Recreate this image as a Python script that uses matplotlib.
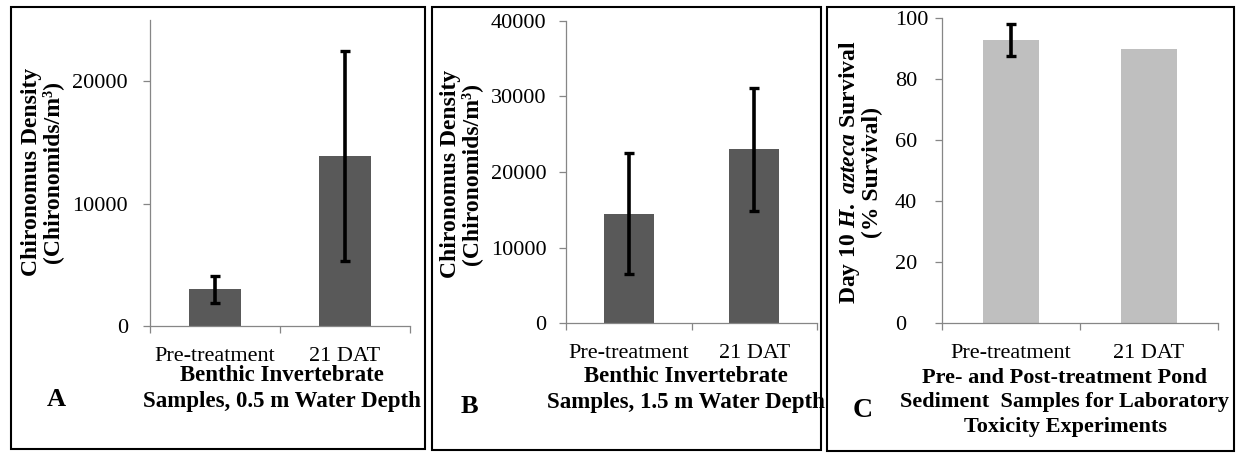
import numpy as np
import matplotlib
matplotlib.use("Agg")
import matplotlib.pyplot as plt
from matplotlib.patches import Rectangle

plt.rcParams['font.family'] = ['Liberation Serif', 'DejaVu Serif']
plt.rcParams['mathtext.fontset'] = 'custom'
plt.rcParams['mathtext.rm'] = 'Liberation Serif:bold'
plt.rcParams['mathtext.it'] = 'Liberation Serif:italic:bold'
plt.rcParams['mathtext.bf'] = 'Liberation Serif:bold'

# ---------------- data ----------------
categories = ["Pre-treatment", "21 DAT"]

a_values = [3000, 13900]
a_errors = [1100, 8600]
a_yticks = [0, 10000, 20000]

b_values = [14500, 23000]
b_errors = [8000, 8150]
b_yticks = [0, 10000, 20000, 30000, 40000]

c_values = [92.8, 90.0]
c_errors = [5.2, np.nan]
c_yticks = [0, 20, 40, 60, 80, 100]

a_ylabel = "Chironomus Density\n(Chironomids/m³)"
b_ylabel = "Chironomus Density\n(Chironomids/m³)"
c_ylabel = "Day 10 $\\mathit{H.\\ azteca}$ Survival\n(% Survival)"
a_xlabel = "Benthic Invertebrate\nSamples, 0.5 m Water Depth"
b_xlabel = "Benthic Invertebrate\nSamples, 1.5 m Water Depth"
c_xlabel = "Pre- and Post-treatment Pond\nSediment  Samples for Laboratory\nToxicity Experiments"

# ---------------- layout helpers ----------------
W, H = 1238, 453
fig = plt.figure(figsize=(W / 100, H / 100), dpi=100)
fig.patch.set_facecolor('white')


def fx(x):
    return x / W


def fy(y):
    return 1 - y / H


def add_ax(x1, y1, x2, y2):
    return fig.add_axes([fx(x1), fy(y2), fx(x2 - x1), (y2 - y1) / H])


def box(x1, y1, x2, y2):
    fig.patches.append(Rectangle((fx(x1), fy(y2)), fx(x2 - x1), (y2 - y1) / H,
                                 transform=fig.transFigure, fill=False,
                                 edgecolor='black', linewidth=1.5, zorder=10))


SPINE = '#868686'


def style_panel(ax, values, errors, yticks, ymax, color):
    xpos = np.arange(len(categories))
    ax.bar(xpos, values, width=0.4, color=color, zorder=2)
    ax.errorbar(xpos, values, yerr=errors, fmt='none', ecolor='black',
                elinewidth=2.6, capsize=3.8, capthick=2.4, zorder=3)
    ax.set_xlim(-0.5, len(categories) - 0.5)
    ax.set_ylim(0, ymax)
    ax.set_yticks(yticks)
    ax.set_yticklabels([str(t) for t in yticks])
    ax.set_xticks(np.arange(-0.5, len(categories)))
    ax.set_xticklabels([])
    ax.set_xticks(xpos, minor=True)
    ax.set_xticklabels(categories, minor=True)
    for s in ['top', 'right']:
        ax.spines[s].set_visible(False)
    for s in ['left', 'bottom']:
        ax.spines[s].set_color(SPINE)
        ax.spines[s].set_linewidth(0.9)
    ax.tick_params(axis='x', which='major', length=5, width=0.9, color=SPINE,
                   direction='out')
    ax.tick_params(axis='x', which='minor', length=0, pad=15, labelsize=16)
    ax.tick_params(axis='y', length=5, width=0.9, color=SPINE, direction='out',
                   labelsize=16, pad=11)
    ax.set_facecolor('none')


# ---------------- panel A ----------------
box(11, 7, 425, 449)
axA = add_ax(150, 20, 410, 326)
style_panel(axA, a_values, a_errors, a_yticks, 25000, '#595959')
fig.text(fx(42), fy(172), a_ylabel, rotation=90, ha='center', va='center',
         fontsize=17, fontweight='bold', linespacing=0.95)
fig.text(fx(282), fy(365), a_xlabel, ha='center', va='top', fontsize=16.5,
         fontweight='bold', linespacing=1.3)
fig.text(fx(56), fy(406), "A", ha='center', va='baseline', fontsize=19,
         fontweight='bold')

# ---------------- panel B ----------------
box(432, 7, 821, 450)
axB = add_ax(566, 20.7, 817, 323.3)
style_panel(axB, b_values, b_errors, b_yticks, 40000, '#595959')
axB.tick_params(axis='y', pad=9)
fig.text(fx(461), fy(174), b_ylabel, rotation=90, ha='center', va='center',
         fontsize=17, fontweight='bold', linespacing=0.95)
fig.text(fx(686), fy(366), b_xlabel, ha='center', va='top', fontsize=16.5,
         fontweight='bold', linespacing=1.3)
fig.text(fx(469), fy(413), "B", ha='center', va='baseline', fontsize=19,
         fontweight='bold')

# ---------------- panel C ----------------
box(827, 7, 1234, 451)
axC = add_ax(942, 18.3, 1218, 323.3)
style_panel(axC, c_values, c_errors, c_yticks, 100, '#bfbfbf')
axC.tick_params(axis='y', pad=29)
for lab in axC.get_yticklabels():
    lab.set_horizontalalignment('left')
fig.text(fx(860), fy(172), c_ylabel, rotation=90, ha='center', va='center',
         fontsize=17, fontweight='bold', linespacing=0.95)
fig.text(fx(1065), fy(368), c_xlabel, ha='center', va='top', fontsize=16,
         fontweight='bold', linespacing=1.3)
fig.text(fx(863), fy(417), "C", ha='center', va='baseline', fontsize=20,
         fontweight='bold')

fig.savefig("out.png", dpi=100, facecolor='white')
